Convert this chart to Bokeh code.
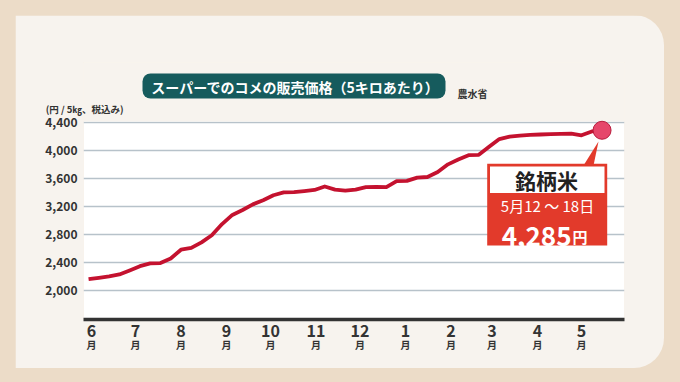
import pandas as pd
from bokeh.plotting import figure
from bokeh.models import (Range1d, FixedTicker, NumeralTickFormatter, LinearAxis, Label,
                          BoxAnnotation, PolyAnnotation, GlobalInlineStyleSheet, ColumnDataSource)
from bokeh.embed import file_html
from bokeh.resources import INLINE

# ---------------- data ----------------
first_week_start = "2024-05-27"          # weekly series, one point per week
prices = [2165, 2185, 2205, 2232, 2290, 2350, 2390, 2395, 2460, 2585,
          2610, 2690, 2790, 2950, 3080, 3150, 3230, 3290, 3360, 3400,
          3405, 3420, 3435, 3485, 3440, 3425, 3440, 3475, 3480, 3475,
          3560, 3565, 3610, 3620, 3690, 3800, 3870, 3930, 3935, 4050,
          4160, 4195, 4210, 4220, 4225, 4230, 4235, 4238, 4214, 4268,
          4285]
month_numbers = [6, 7, 8, 9, 10, 11, 12, 1, 2, 3, 4, 5]
y_ticks = [2000, 2400, 2800, 3200, 3600, 4000, 4400]
title_text = "スーパーでのコメの販売価格（5キロあたり）"
source_text = "農水省"
unit_text = "(円 / 5㎏、税込み)"
callout_title = "銘柄米"
callout_period = "5月12 〜 18日"

# ---------------- derived ----------------
origin = pd.Timestamp("2024-06-01")
mid = pd.date_range(first_week_start, periods=len(prices), freq="7D") + pd.Timedelta(days=3)
xs = [(d - origin).days for d in mid]
month_starts = pd.date_range("2024-06-01", periods=len(month_numbers), freq="MS")
month_x = [(d - origin).days for d in month_starts]

FONT = "Noto Sans CJK JP"
DARK = "#333333"
PANEL = "#f7f3ee"
BEIGE = "#ecdcc8"
RED = "#e23a2b"
W, H = 649, 353
FRAME_TOP, FRAME_BOTTOM = 62, 319      # window pixels
Y0, Y1 = 1591, 5250

fig = figure(width=W, height=H, output_backend="svg", toolbar_location=None,
             x_range=Range1d(-5.45, 363.3), y_range=Range1d(Y0, Y1),
             min_border_left=68, min_border_right=40, min_border_top=FRAME_TOP - 15,
             min_border_bottom=15 + H - FRAME_BOTTOM,
             background_fill_color="white", border_fill_color=PANEL,
             outline_line_color=None, x_axis_type=None)
fig.styles = {"border-radius": "0px 30px 30px 0px", "overflow": "hidden"}
fig.stylesheets = [GlobalInlineStyleSheet(
    css="html, body { background-color: #ecdcc8; } body { margin: 15px 0px 0px 15px !important; }")]

# panel colour above the white plotting area
fig.add_layout(BoxAnnotation(bottom=y_ticks[-1] + 10, fill_color=PANEL, fill_alpha=1,
                             line_color=None, level="underlay"))

# y axis
fig.yaxis.ticker = FixedTicker(ticks=y_ticks)
fig.yaxis.formatter = NumeralTickFormatter(format="0,0")
fig.yaxis.axis_line_color = None
fig.yaxis.major_tick_line_color = None
fig.yaxis.major_tick_out = 0
fig.yaxis.major_tick_in = 0
fig.yaxis.minor_tick_line_color = None
fig.yaxis.major_label_standoff = 6
fig.yaxis.major_label_text_font = FONT
fig.yaxis.major_label_text_font_size = "12px"
fig.yaxis.major_label_text_font_style = "bold"
fig.yaxis.major_label_text_color = DARK
fig.ygrid.grid_line_color = "#b7c2ca"
fig.ygrid.grid_line_width = 1.5
fig.xgrid.grid_line_color = None

# unit text, carried by a second left axis
unit_y = Y0 + (FRAME_BOTTOM - 108) / (FRAME_BOTTOM - FRAME_TOP) * (Y1 - Y0)
axu = LinearAxis(ticker=FixedTicker(ticks=[unit_y]), major_label_overrides={unit_y: unit_text})
axu.axis_line_color = None
axu.major_tick_line_color = None
axu.major_tick_out = 0
axu.major_tick_in = 0
axu.minor_tick_line_color = None
axu.major_label_standoff = -81
axu.major_label_text_font = FONT
axu.major_label_text_font_size = "9.5px"
axu.major_label_text_font_style = "bold"
axu.major_label_text_color = DARK
fig.add_layout(axu, "left")

# x axes: month number and 月
ax1 = LinearAxis(ticker=FixedTicker(ticks=month_x),
                 major_label_overrides={x: str(m) for x, m in zip(month_x, month_numbers)})
ax1.axis_line_color = "#333333"
ax1.axis_line_width = 3.5
ax1.major_tick_line_color = None
ax1.major_tick_out = 0
ax1.major_tick_in = 0
ax1.minor_tick_line_color = None
ax1.major_label_standoff = 5
ax1.major_label_text_font = FONT
ax1.major_label_text_font_size = "16px"
ax1.major_label_text_font_style = "bold"
ax1.major_label_text_color = DARK
fig.add_layout(ax1, "below")

ax2 = LinearAxis(ticker=FixedTicker(ticks=month_x),
                 major_label_overrides={x: "月" for x in month_x})
ax2.axis_line_color = None
ax2.major_tick_line_color = None
ax2.major_tick_out = 0
ax2.major_tick_in = 0
ax2.minor_tick_line_color = None
ax2.major_label_standoff = -3
ax2.major_label_text_font = FONT
ax2.major_label_text_font_size = "10px"
ax2.major_label_text_font_style = "bold"
ax2.major_label_text_color = DARK
fig.add_layout(ax2, "below")

src = ColumnDataSource(dict(x=xs, y=prices))
fig.line("x", "y", source=src, line_color="#c4122f", line_width=3.8, line_join="round")

# screen positions relative to the frame's bottom-left corner
def fx(xw):
    return xw - 83

def fy(yw):
    return FRAME_BOTTOM - yw

# title box
fig.add_layout(BoxAnnotation(left=fx(142), right=fx(445), top=fy(73), bottom=fy(98),
                             left_units="screen", right_units="screen", top_units="screen", bottom_units="screen",
                             fill_color="#165b5d", fill_alpha=1, line_color=None, border_radius=8))
fig.add_layout(Label(x=fx(295), y=fy(86), x_units="screen", y_units="screen", text=title_text,
                     text_align="center", text_baseline="middle", text_font=FONT,
                     text_font_size="14px", text_font_style="bold", text_color="white"))
fig.add_layout(Label(x=fx(457), y=fy(93), x_units="screen", y_units="screen", text=source_text,
                     text_align="left", text_baseline="middle", text_font=FONT,
                     text_font_size="10px", text_font_style="bold", text_color=DARK))

# callout
fig.add_layout(PolyAnnotation(xs=[fx(583), fx(593), fx(598)], ys=[fy(165), fy(165), fy(141)],
                              xs_units="screen", ys_units="screen",
                              fill_color=RED, fill_alpha=1, line_color=None))
fig.add_layout(BoxAnnotation(left=fx(486.7), right=fx(606.7), top=fy(163.3), bottom=fy(245),
                             left_units="screen", right_units="screen", top_units="screen", bottom_units="screen",
                             fill_color=RED, fill_alpha=1, line_color=None))
fig.add_layout(BoxAnnotation(left=fx(489.5), right=fx(604), top=fy(166), bottom=fy(192.5),
                             left_units="screen", right_units="screen", top_units="screen", bottom_units="screen",
                             fill_color="white", fill_alpha=1, line_color=None))
fig.add_layout(Label(x=fx(546), y=fy(179), x_units="screen", y_units="screen", text=callout_title,
                     text_align="center", text_baseline="middle", text_font=FONT,
                     text_font_size="21px", text_font_style="bold", text_color="#222222"))
fig.add_layout(Label(x=fx(547), y=fy(205), x_units="screen", y_units="screen", text=callout_period,
                     text_align="center", text_baseline="middle", text_font=FONT,
                     text_font_size="15px", text_color="white"))
fig.add_layout(Label(x=fx(571), y=fy(236), x_units="screen", y_units="screen", text=f"{prices[-1]:,}",
                     text_align="right", text_baseline="alphabetic", text_font=FONT,
                     text_font_size="26px", text_font_style="bold", text_color="white"))
fig.add_layout(Label(x=fx(572), y=fy(236), x_units="screen", y_units="screen", text="円",
                     text_align="left", text_baseline="alphabetic", text_font=FONT,
                     text_font_size="15px", text_font_style="bold", text_color="white"))

fig.scatter(x=[xs[-1]], y=[prices[-1]], size=18, fill_color="#e6466a", line_color="#b81c3c",
            line_width=1, level="overlay")

p = fig
open("out.html", "w").write(file_html(p, INLINE))
